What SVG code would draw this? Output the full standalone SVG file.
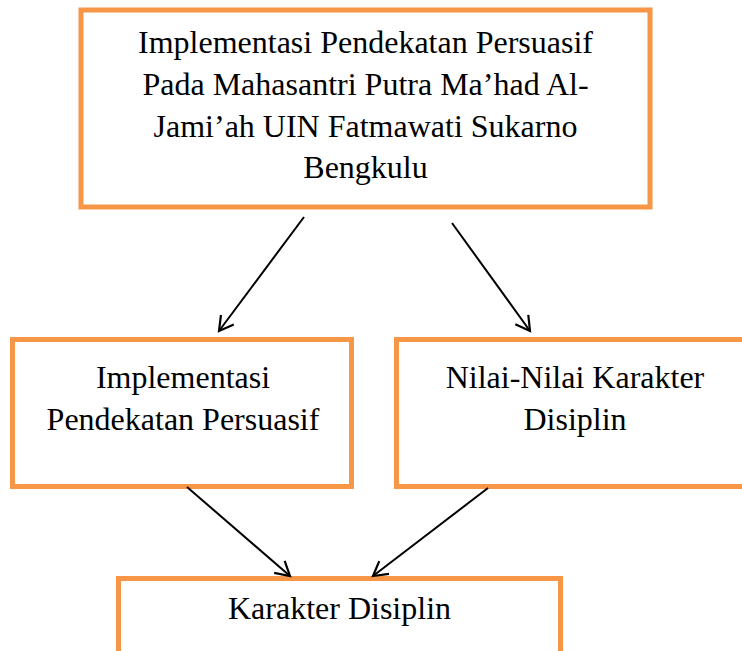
<svg xmlns="http://www.w3.org/2000/svg" width="742" height="651" viewBox="0 0 742 651">
<style>
.box{fill:#fff;stroke:#F79646;stroke-width:5}
.t{font-family:"Liberation Serif","Times New Roman",serif;font-size:32px;fill:#000;text-anchor:middle}
.c{stroke:#000;stroke-width:2;fill:none}
</style>
<defs>
<marker id="ah" markerUnits="userSpaceOnUse" markerWidth="24" markerHeight="24" refX="16" refY="9" orient="auto" viewBox="0 0 24 18">
<path d="M2,1 L16,9 L2,17" fill="none" stroke="#000" stroke-width="2.2"/>
</marker>
</defs>
<rect width="742" height="651" fill="#fff"/>
<g id="n1">
<rect class="box" x="81" y="10" width="569" height="197"/>
<text class="t" x="365.5" y="53">Implementasi Pendekatan Persuasif</text>
<text class="t" x="365.5" y="95">Pada Mahasantri Putra Ma’had Al-</text>
<text class="t" x="365.5" y="137">Jami’ah UIN Fatmawati Sukarno</text>
<text class="t" x="365.5" y="178">Bengkulu</text>
</g>
<g id="n2">
<rect class="box" x="12.5" y="339.5" width="339" height="147"/>
<text class="t" x="183" y="388">Implementasi</text>
<text class="t" x="183" y="430">Pendekatan Persuasif</text>
</g>
<g id="n3">
<rect class="box" x="396.5" y="339.5" width="360" height="147"/>
<text class="t" x="575" y="388">Nilai-Nilai Karakter</text>
<text class="t" x="575" y="430">Disiplin</text>
</g>
<g id="n4">
<rect class="box" x="118.5" y="578.5" width="442" height="80"/>
<text class="t" x="339.5" y="619">Karakter Disiplin</text>
</g>
<g id="connectors">
<line class="c" x1="304" y1="217" x2="219" y2="331" marker-end="url(#ah)"/>
<line class="c" x1="452" y1="223" x2="530" y2="331" marker-end="url(#ah)"/>
<line class="c" x1="187" y1="487" x2="290" y2="576" marker-end="url(#ah)"/>
<line class="c" x1="488" y1="488" x2="373" y2="576" marker-end="url(#ah)"/>
</g>
</svg>
